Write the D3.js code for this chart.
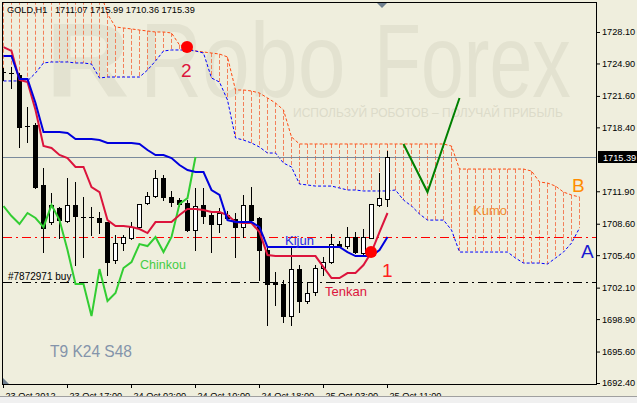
<!DOCTYPE html>
<html><head><meta charset="utf-8">
<script src="https://cdn.jsdelivr.net/npm/d3@7"></script>
<style>
html,body{margin:0;padding:0;background:#efeedd;overflow:hidden;}
svg{display:block;}
text{font-family:"Liberation Sans",Arial,sans-serif;}
</style></head><body>
<svg id="chart" width="637" height="403"></svg>
<script>
// ---------- data ----------
const symbolTitle = "GOLD,H1";
const ohlcTitle = "1711.07 1715.99 1710.36 1715.39";
const opens  = [1724.03,1723.93,1723.73,1718.54,1718.64,1712.54,1708.77,1710.20,1708.87,1710.50,1709.28,1709.28,1709.18,1708.77,1704.91,1706.64,1707.14,1708.26,1710.70,1711.42,1713.25,1711.31,1711.01,1710.70,1707.96,1710.50,1709.48,1708.57,1709.48,1709.08,1708.26,1710.50,1709.18,1705.93,1702.57,1702.46,1699.21,1703.99,1700.74,1701.65,1704.09,1704.70,1706.53,1706.33,1707.25,1705.62,1707.14,1710.50,1711.07];
const highs  = [1724.44,1724.54,1723.93,1720.47,1718.84,1714.26,1711.72,1710.30,1713.25,1712.84,1711.31,1710.30,1709.79,1708.80,1707.45,1707.45,1708.77,1710.65,1711.82,1714.06,1713.55,1711.93,1711.21,1711.01,1712.23,1712.23,1709.69,1710.20,1709.90,1709.69,1711.52,1712.33,1709.28,1706.23,1703.69,1702.87,1706.13,1704.40,1702.57,1704.40,1705.21,1707.55,1706.84,1708.26,1707.75,1708.06,1710.60,1713.76,1715.99];
const lows   = [1723.22,1722.40,1716.40,1716.91,1712.23,1705.72,1708.57,1707.14,1708.77,1704.40,1705.21,1707.45,1707.65,1703.38,1704.60,1705.93,1707.04,1708.16,1710.60,1711.31,1711.01,1710.40,1710.40,1707.86,1705.93,1708.67,1705.72,1707.75,1708.97,1705.21,1707.25,1708.87,1702.87,1698.29,1700.33,1698.60,1698.29,1699.62,1700.53,1701.35,1703.38,1704.60,1706.23,1706.13,1705.62,1705.52,1707.10,1710.40,1710.36];
const closes = [1724.00,1723.90,1718.44,1718.50,1712.33,1708.16,1710.50,1708.97,1710.50,1709.38,1709.25,1709.25,1708.77,1704.70,1706.64,1707.25,1708.26,1710.60,1711.42,1713.25,1711.31,1710.81,1710.60,1707.96,1710.40,1709.38,1708.57,1709.69,1709.18,1708.26,1710.50,1708.97,1705.92,1702.46,1702.46,1699.21,1703.99,1700.74,1701.55,1704.09,1704.70,1706.53,1706.33,1707.25,1705.72,1707.25,1710.60,1711.21,1715.39];
const tenkan = [1726.57,1726.17,1723.22,1723.01,1720.17,1716.50,1716.30,1715.59,1715.28,1714.37,1714.37,1712.33,1711.82,1708.97,1708.36,1708.36,1708.26,1708.06,1707.65,1708.77,1708.77,1708.77,1709.48,1710.09,1710.09,1709.99,1709.79,1709.79,1709.48,1708.77,1708.67,1708.67,1707.75,1705.41,1705.31,1705.31,1705.31,1705.31,1705.31,1705.31,1704.19,1703.07,1703.07,1703.58,1703.58,1704.40,1705.72,1707.75,1709.69];
const kijun  = [1725.66,1725.66,1723.32,1723.32,1720.88,1717.93,1717.93,1717.93,1717.83,1717.21,1717.21,1717.21,1717.11,1716.81,1716.81,1716.81,1716.81,1716.71,1716.10,1715.59,1715.59,1715.28,1714.57,1714.06,1713.86,1713.86,1712.03,1711.52,1708.97,1708.77,1708.77,1708.77,1708.26,1706.23,1706.23,1706.23,1706.23,1706.23,1706.23,1706.23,1706.23,1706.23,1706.23,1705.72,1705.31,1705.31,1705.31,1705.92,1707.25];
const senkouA = [1723.12,1723.12,1723.12,1723.12,1723.93,1724.95,1725.05,1725.05,1725.05,1724.95,1724.95,1724.84,1723.42,1723.52,1723.52,1723.52,1723.52,1723.52,1724.23,1725.15,1726.17,1726.27,1726.27,1726.27,1726.17,1725.96,1723.42,1723.01,1721.18,1717.32,1717.11,1716.81,1716.40,1715.79,1715.79,1714.77,1714.37,1712.64,1712.54,1712.43,1712.43,1712.43,1712.23,1712.03,1712.03,1711.93,1711.93,1711.93,1711.93,1712.03,1711.01,1710.40,1709.59,1708.97,1708.97,1708.97,1707.96,1705.72,1705.72,1705.72,1705.72,1705.72,1705.72,1705.72,1705.11,1704.60,1704.60,1704.60,1704.50,1705.11,1705.72,1706.63,1708.16];
const senkouB = [1732.50,1732.50,1732.50,1732.50,1732.50,1732.50,1732.50,1732.50,1732.50,1732.50,1732.50,1732.50,1732.50,1729.93,1728.61,1728.51,1728.41,1728.30,1728.20,1728.10,1728.10,1728.00,1726.78,1726.47,1726.17,1726.07,1725.96,1725.86,1725.56,1722.20,1722.20,1722.10,1721.89,1721.39,1720.88,1720.17,1717.42,1716.71,1716.71,1716.71,1716.71,1716.71,1716.71,1716.71,1716.71,1716.71,1716.71,1716.71,1716.71,1716.71,1716.71,1716.71,1716.71,1716.71,1716.71,1716.71,1716.50,1714.16,1714.16,1714.16,1714.16,1714.16,1714.16,1714.16,1714.16,1714.16,1713.96,1712.84,1712.74,1712.43,1711.82,1711.52,1711.32];
const chinkou = [1710.40,1709.38,1708.57,1709.69,1709.18,1708.26,1710.50,1708.97,1705.92,1702.46,1702.46,1699.21,1703.99,1700.74,1701.55,1704.09,1704.70,1706.53,1706.33,1707.25,1705.72,1707.25,1710.60,1711.21,1715.39];
const yTicks = [1728.10,1724.90,1721.60,1718.40,1711.90,1708.60,1705.40,1702.10,1698.90,1695.60,1692.40];
const xTickIdx = [0,8,16,24,32,40,48];
const xTickLabels = ["23 Oct 2012","23 Oct 17:00","24 Oct 02:00","24 Oct 10:00","24 Oct 18:00","25 Oct 03:00","25 Oct 11:00"];
const lastPrice = 1715.39;
const levelRed = 1707.25;
const levelBuy = 1702.67;
const buyLabel = "#7872971 buy";
const forecastIdx = [50,53,57];
const forecastPrice = [1716.71,1711.82,1721.39];
const markIdx = [46,23];
const markPrice = [1705.72,1726.57];
const paramsLabel = "T9 K24 S48";

// ---------- layout ----------
const W = 637, H = 403;
const L = 3, R = 597, T = 3, B = 385;
const svg = d3.select("#chart");
const x = d3.scaleLinear().domain([0, 74]).range([3, 595]);
const y = d3.scaleLinear().domain([1692.40, 1728.10]).range([383, 32]);

svg.append("rect").attr("width", W).attr("height", H).attr("fill", "#efeedd");
svg.append("defs").append("clipPath").attr("id", "plot")
  .append("rect").attr("x", L).attr("y", T).attr("width", R - L).attr("height", B - T);

const plot = svg.append("g").attr("clip-path", "url(#plot)");

// watermark (glyphs sized to their natural width, stretched vertically)
const wm = "#e3e2d0";
plot.append("text").attr("transform", "translate(46,97) scale(1.1,1)").attr("font-size", 105).attr("font-weight", "bold")
  .attr("fill", wm).text("R");
plot.append("text").attr("transform", "translate(140,97) scale(1,1.22)").attr("font-size", 86)
  .attr("fill", wm).text("Robo");
plot.append("text").attr("transform", "translate(374,97) scale(1,1.36)").attr("font-size", 77)
  .attr("fill", wm).text("Forex");
plot.append("text").attr("x", 293).attr("y", 117).attr("font-size", 12)
  .attr("fill", "#dcdbc9").text("ИСПОЛЬЗУЙ РОБОТОВ – ПОЛУЧАЙ ПРИБЫЛЬ");

const px = i => Math.round(x(i)) + 0.5;

// cloud hatching
plot.append("g").selectAll("line").data(senkouA.map((a, i) => ({i, a, b: senkouB[i]})))
  .join("line")
  .attr("x1", d => px(d.i)).attr("x2", d => px(d.i))
  .attr("y1", d => y(d.b)).attr("y2", d => y(d.a))
  .attr("stroke", "#f3805a").attr("stroke-width", 1).attr("stroke-dasharray", "4,2");

const line = d3.line().x((d, i) => px(i)).y(d => y(d));
plot.append("path").attr("d", line(senkouB)).attr("fill", "none")
  .attr("stroke", "#ff4a10").attr("stroke-width", 1).attr("stroke-dasharray", "3,2");
plot.append("path").attr("d", line(senkouA)).attr("fill", "none")
  .attr("stroke", "#0000ff").attr("stroke-width", 1).attr("stroke-dasharray", "3,2");

// price line
plot.append("line").attr("x1", L).attr("x2", R).attr("y1", Math.round(y(lastPrice)) + 0.5).attr("y2", Math.round(y(lastPrice)) + 0.5)
  .attr("stroke", "#7a8a9c").attr("stroke-width", 1);

// levels
plot.append("line").attr("x1", L).attr("x2", R).attr("y1", Math.round(y(levelRed)) + 0.5).attr("y2", Math.round(y(levelRed)) + 0.5)
  .attr("stroke", "#ff0000").attr("stroke-width", 1).attr("stroke-dasharray", "9,4,2,4");
plot.append("line").attr("x1", L).attr("x2", R).attr("y1", Math.round(y(levelBuy)) + 0.5).attr("y2", Math.round(y(levelBuy)) + 0.5)
  .attr("stroke", "#000").attr("stroke-width", 1).attr("stroke-dasharray", "9,4,2,4");
plot.append("text").attr("x", 8).attr("y", 280).attr("font-size", 10).attr("fill", "#000").text(buyLabel);

// candles
const candles = opens.map((o, i) => ({i, o, h: highs[i], l: lows[i], c: closes[i]}));
const cg = plot.append("g").attr("shape-rendering", "crispEdges");
cg.selectAll("line.wick").data(candles).join("line").attr("class", "wick")
  .attr("x1", d => px(d.i)).attr("x2", d => px(d.i))
  .attr("y1", d => Math.round(y(d.h))).attr("y2", d => Math.round(y(d.l)) + 1)
  .attr("stroke", "#000");
candles.forEach(d => {
  const top = Math.round(y(Math.max(d.o, d.c)));
  const bot = Math.round(y(Math.min(d.o, d.c)));
  const cx = Math.round(x(d.i));
  if (bot - top < 1) {
    cg.append("line").attr("x1", cx - 2).attr("x2", cx + 3).attr("y1", top + 0.5).attr("y2", top + 0.5).attr("stroke", "#000");
  } else {
    cg.append("rect").attr("x", cx - 2 + 0.5).attr("y", top + 0.5).attr("width", 4).attr("height", bot - top)
      .attr("fill", d.c >= d.o ? "#fff" : "#000").attr("stroke", "#000");
  }
});

// ichimoku lines
plot.append("path").attr("d", line(chinkou)).attr("fill", "none").attr("stroke", "#32cd32").attr("stroke-width", 2);
plot.append("path").attr("d", line(tenkan)).attr("fill", "none").attr("stroke", "#dc143c").attr("stroke-width", 2);
plot.append("path").attr("d", line(kijun)).attr("fill", "none").attr("stroke", "#0000dd").attr("stroke-width", 2);

// forecast
plot.append("path").attr("d", d3.line().x((d, k) => px(forecastIdx[k])).y(d => y(d))(forecastPrice))
  .attr("fill", "none").attr("stroke", "#008000").attr("stroke-width", 2);

// marks
plot.selectAll("circle.mark").data(markIdx).join("circle").attr("class", "mark")
  .attr("cx", (d, k) => x(d)).attr("cy", (d, k) => y(markPrice[k])).attr("r", 6).attr("fill", "#ff0000");

// annotations
const ann = [
  {t: "1", x: 382, y: 277, s: 19, c: "#ff2020"},
  {t: "2", x: 181, y: 77, s: 19, c: "#dc143c"},
  {t: "Kijun", x: 285, y: 245, s: 13, c: "#2a2ae6"},
  {t: "Tenkan", x: 325, y: 296, s: 13, c: "#dc143c"},
  {t: "Chinkou", x: 140, y: 269, s: 12.5, c: "#44cc44"},
  {t: "Kumo", x: 473, y: 215, s: 13, c: "#f08a30"},
  {t: "B", x: 572, y: 192, s: 19, c: "#ff8c00"},
  {t: "A", x: 581, y: 258, s: 19, c: "#1a1ad0"}
];
plot.selectAll("text.ann").data(ann).join("text").attr("class", "ann")
  .attr("x", d => d.x).attr("y", d => d.y).attr("font-size", d => d.s).attr("fill", d => d.c).text(d => d.t);
plot.append("text").attr("x", 50).attr("y", 357).attr("font-size", 16.5).attr("textLength", 82)
  .attr("lengthAdjust", "spacingAndGlyphs").attr("fill", "#8494aa").text(paramsLabel);

// header
svg.append("text").attr("x", 7).attr("y", 13).attr("font-size", 9.2).attr("fill", "#000").text(symbolTitle);
svg.append("text").attr("x", 55).attr("y", 13).attr("font-size", 9.2).attr("fill", "#000").text(ohlcTitle);

// shift marker & corner marker
svg.append("path").attr("d", "M377,3 L387,3 L382,8 Z").attr("fill", "#6f8090");
svg.append("path").attr("d", "M3,378 L3,385 L10,385 Z").attr("fill", "#6f8090");

// border
svg.append("rect").attr("x", 2.5).attr("y", 2.5).attr("width", 594).attr("height", 382)
  .attr("fill", "none").attr("stroke", "#000").attr("stroke-width", 1);

// axes
const yAxis = d3.axisRight(y).tickValues(yTicks).tickSize(4).tickPadding(2).tickFormat(d => d.toFixed(2));
const ya = svg.append("g").attr("transform", "translate(596,0)").call(yAxis);
ya.select(".domain").remove();
ya.selectAll("text").attr("font-size", 9.2).attr("font-family", "Liberation Sans, Arial, sans-serif").attr("fill", "#000");
ya.selectAll("line").attr("stroke", "#000");

const xAxis = d3.axisBottom(x).tickValues(xTickIdx).tickSize(4).tickPadding(4).tickFormat((d, k) => xTickLabels[k]);
const xa = svg.append("g").attr("transform", "translate(0,384)").call(xAxis);
xa.select(".domain").remove();
xa.selectAll("text").attr("font-size", 9.2).attr("font-family", "Liberation Sans, Arial, sans-serif")
  .attr("text-anchor", "start").attr("x", 2).attr("fill", "#000");
xa.selectAll("line").attr("stroke", "#000");

// current price label
const py = Math.round(y(lastPrice));
svg.append("rect").attr("x", 598).attr("y", py - 6).attr("width", 39).attr("height", 12).attr("fill", "#000");
svg.append("text").attr("x", 603).attr("y", py + 3.5).attr("font-size", 9.2).attr("fill", "#fff").text(lastPrice.toFixed(2));

// bottom strip
svg.append("rect").attr("x", 0).attr("y", 396).attr("width", W).attr("height", 7).attr("fill", "#f0f0f0");
svg.append("line").attr("x1", 0).attr("x2", W).attr("y1", 396.5).attr("y2", 396.5).attr("stroke", "#a0a0a0");
</script>
</body></html>
